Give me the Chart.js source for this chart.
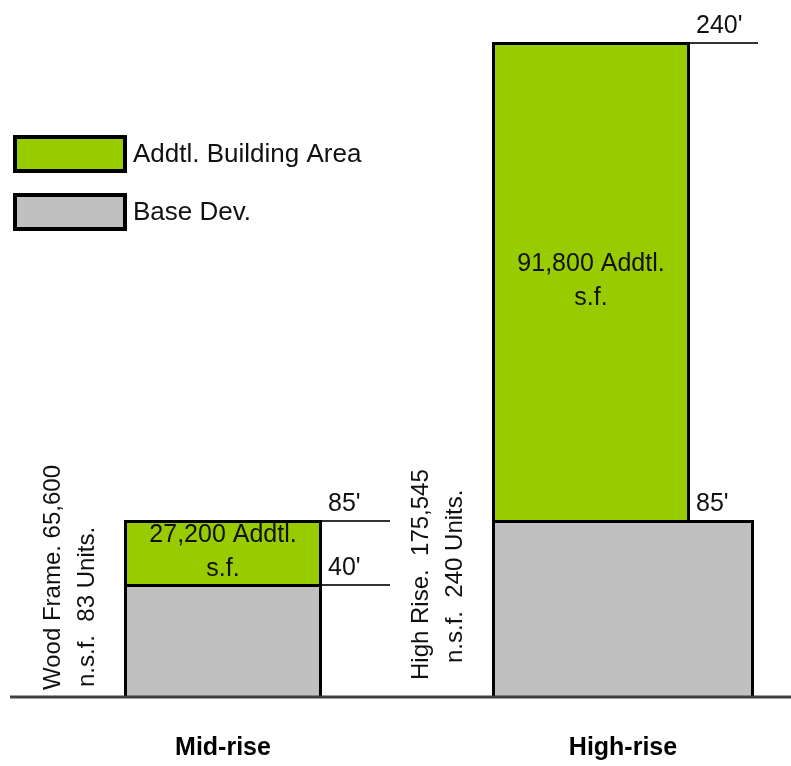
<!DOCTYPE html>
<html>
<head>
<meta charset="utf-8">
<title>Mid-rise vs High-rise</title>
<script src="https://cdn.jsdelivr.net/npm/chart.js@4.4.1/dist/chart.umd.min.js"></script>
<style>
  html, body { margin: 0; padding: 0; background: #ffffff; }
  canvas { display: block; }
</style>
</head>
<body>
<canvas id="chart" width="791" height="766"></canvas>
<script>
// Building types and their heights (feet)
const categories   = ['Mid-rise', 'High-rise'];
const baseTopFeet  = [40, 85];      // top of the base development
const addtlTopFeet = [85, 240];     // top of the additional building area
// Areas and unit counts written beside / inside the bars
const addtlArea    = ['27,200', '91,800'];
const totalArea    = ['65,600', '175,545'];
const unitCount    = [83, 240];
const buildingKind = ['Wood Frame.', 'High Rise.'];
const spacer       = [' ', '  '];
// Height marks of the elevation and the share of plot height each one sits at
const levelFeet  = [0, 40, 85, 240];
const levelShare = [0, 0.1725, 0.2702, 1];

const FONT = '"Liberation Sans", Arial, Helvetica, sans-serif';
const GREEN = '#99CC00';
const GREY = '#C0C0C0';
// the high-rise base is broader than the tower standing on it
const PODIUM_WIDTH = [1, 1.323];

// Vertical scale that is linear between the listed height marks
class SteppedScale extends Chart.LinearScale {
  static id = 'stepped';
  static defaults = {};
  _share(value) {
    for (let i = 1; i < levelFeet.length; i++) {
      if (value <= levelFeet[i] || i === levelFeet.length - 1) {
        const t = (value - levelFeet[i - 1]) / (levelFeet[i] - levelFeet[i - 1]);
        return levelShare[i - 1] + t * (levelShare[i] - levelShare[i - 1]);
      }
    }
    return 0;
  }
  getPixelForValue(value) {
    return this.getPixelForDecimal(this._share(value));
  }
  getValueForPixel(pixel) {
    const d = this.getDecimalForPixel(pixel);
    for (let i = 1; i < levelShare.length; i++) {
      if (d <= levelShare[i] || i === levelShare.length - 1) {
        const t = (d - levelShare[i - 1]) / (levelShare[i] - levelShare[i - 1]);
        return levelFeet[i - 1] + t * (levelFeet[i] - levelFeet[i - 1]);
      }
    }
    return 0;
  }
}
Chart.register(SteppedScale);

const elevation = {
  id: 'elevation',
  afterDatasetsUpdate(chart) {
    const towers = chart.getDatasetMeta(0).data;
    const bases = chart.getDatasetMeta(1).data;
    bases.forEach((bar, i) => {
      bar.width *= PODIUM_WIDTH[i];
      const tower = towers[i];
      // tower shares the left wall of its base
      tower.x = bar.x - bar.width / 2 + tower.width / 2;
    });
  },
  afterDatasetsDraw(chart) {
    const { ctx } = chart;
    const y = chart.scales.y;
    const towers = chart.getDatasetMeta(0).data;
    const bases = chart.getDatasetMeta(1).data;
    ctx.save();

    // ground line
    const ground = y.getPixelForValue(0);
    ctx.strokeStyle = '#404040';
    ctx.lineWidth = 3;
    ctx.beginPath();
    ctx.moveTo(10, ground);
    ctx.lineTo(chart.width, ground);
    ctx.stroke();

    categories.forEach((cat, i) => {
      const tower = towers[i];
      const base = bases[i];
      const right = tower.x + tower.width / 2;
      const baseRight = base.x + base.width / 2;

      // height marks
      [baseTopFeet[i], addtlTopFeet[i]].forEach(ft => {
        const py = Math.round(y.getPixelForValue(ft)) + 1;
        const end = right + 68;
        // where the base reaches further out, its own top edge is the mark
        const start = ft === baseTopFeet[i] ? Math.max(right, baseRight) : right;
        if (end - start > 10) {
          ctx.strokeStyle = '#333333';
          ctx.lineWidth = 2;
          ctx.beginPath();
          ctx.moveTo(start, py);
          ctx.lineTo(end, py);
          ctx.stroke();
        }
        ctx.fillStyle = '#111111';
        ctx.font = `25px ${FONT}`;
        ctx.textAlign = 'left';
        ctx.textBaseline = 'alphabetic';
        ctx.fillText(`${ft}'`, right + 6, py - 10);
      });

      // additional area inside the tower
      const top = y.getPixelForValue(addtlTopFeet[i]);
      const bottom = y.getPixelForValue(baseTopFeet[i]);
      const mid = (top + bottom) / 2;
      ctx.fillStyle = '#111111';
      ctx.font = `25px ${FONT}`;
      ctx.textAlign = 'center';
      ctx.textBaseline = 'middle';
      ctx.fillText(`${addtlArea[i]} Addtl.`, tower.x, mid - 17);
      ctx.fillText('s.f.', tower.x, mid + 17);

      // totals written upright beside the building
      const left = base.x - base.width / 2;
      const lines = [
        `${buildingKind[i]}${spacer[i]}${totalArea[i]}`,
        `n.s.f.  ${unitCount[i]} Units.`
      ];
      const colX = [left - 71, left - 37];
      const lift = i === 0 ? [7, 10] : [17, 34];
      ctx.font = `24px ${FONT}`;
      ctx.textAlign = 'left';
      lines.forEach((txt, k) => {
        ctx.save();
        ctx.translate(colX[k], ground - lift[k]);
        ctx.rotate(-Math.PI / 2);
        ctx.fillText(txt, 0, 0);
        ctx.restore();
      });
    });
    ctx.restore();
  },
  afterDraw(chart) {
    // legend: additional area first, base beneath
    const { ctx } = chart;
    const items = chart.data.datasets;
    ctx.save();
    items.forEach((ds, k) => {
      const top = 137 + k * 58;
      ctx.fillStyle = ds.backgroundColor;
      ctx.fillRect(15, top, 110, 34);
      ctx.strokeStyle = '#000000';
      ctx.lineWidth = 4;
      ctx.strokeRect(15, top, 110, 34);
      ctx.fillStyle = '#111111';
      ctx.font = `26px ${FONT}`;
      ctx.textAlign = 'left';
      ctx.textBaseline = 'middle';
      ctx.fillText(ds.label, 133, top + 18);
    });
    ctx.restore();
  }
};

new Chart(document.getElementById('chart'), {
  type: 'bar',
  data: {
    labels: categories,
    datasets: [
      {
        label: 'Addtl. Building Area',
        data: categories.map((c, i) => [baseTopFeet[i], addtlTopFeet[i]]),
        backgroundColor: GREEN,
        borderColor: '#000000',
        borderWidth: 3,
        borderSkipped: 'start',
        grouped: false,
        categoryPercentage: 1,
        barPercentage: 0.495,
        clip: false
      },
      {
        label: 'Base Dev.',
        data: baseTopFeet,
        backgroundColor: GREY,
        borderColor: '#000000',
        borderWidth: 3,
        borderSkipped: 'start',
        grouped: false,
        categoryPercentage: 1,
        barPercentage: 0.495,
        clip: false
      }
    ]
  },
  options: {
    responsive: false,
    animation: false,
    events: [],
    layout: { padding: { top: 42, left: 223, right: 168, bottom: 0 } },
    plugins: {
      legend: { display: false },
      tooltip: { enabled: false }
    },
    scales: {
      x: {
        type: 'category',
        offset: false,
        grid: { display: false, drawTicks: false },
        border: { display: false },
        ticks: {
          padding: 36,
          color: '#000000',
          autoSkip: false,
          maxRotation: 0,
          font: { family: FONT, size: 25, weight: 'bold' }
        },
        afterFit(scale) { scale.height = 69; }
      },
      y: {
        type: 'stepped',
        min: 0,
        max: 240,
        display: false
      }
    }
  },
  plugins: [elevation]
});
</script>
</body>
</html>
